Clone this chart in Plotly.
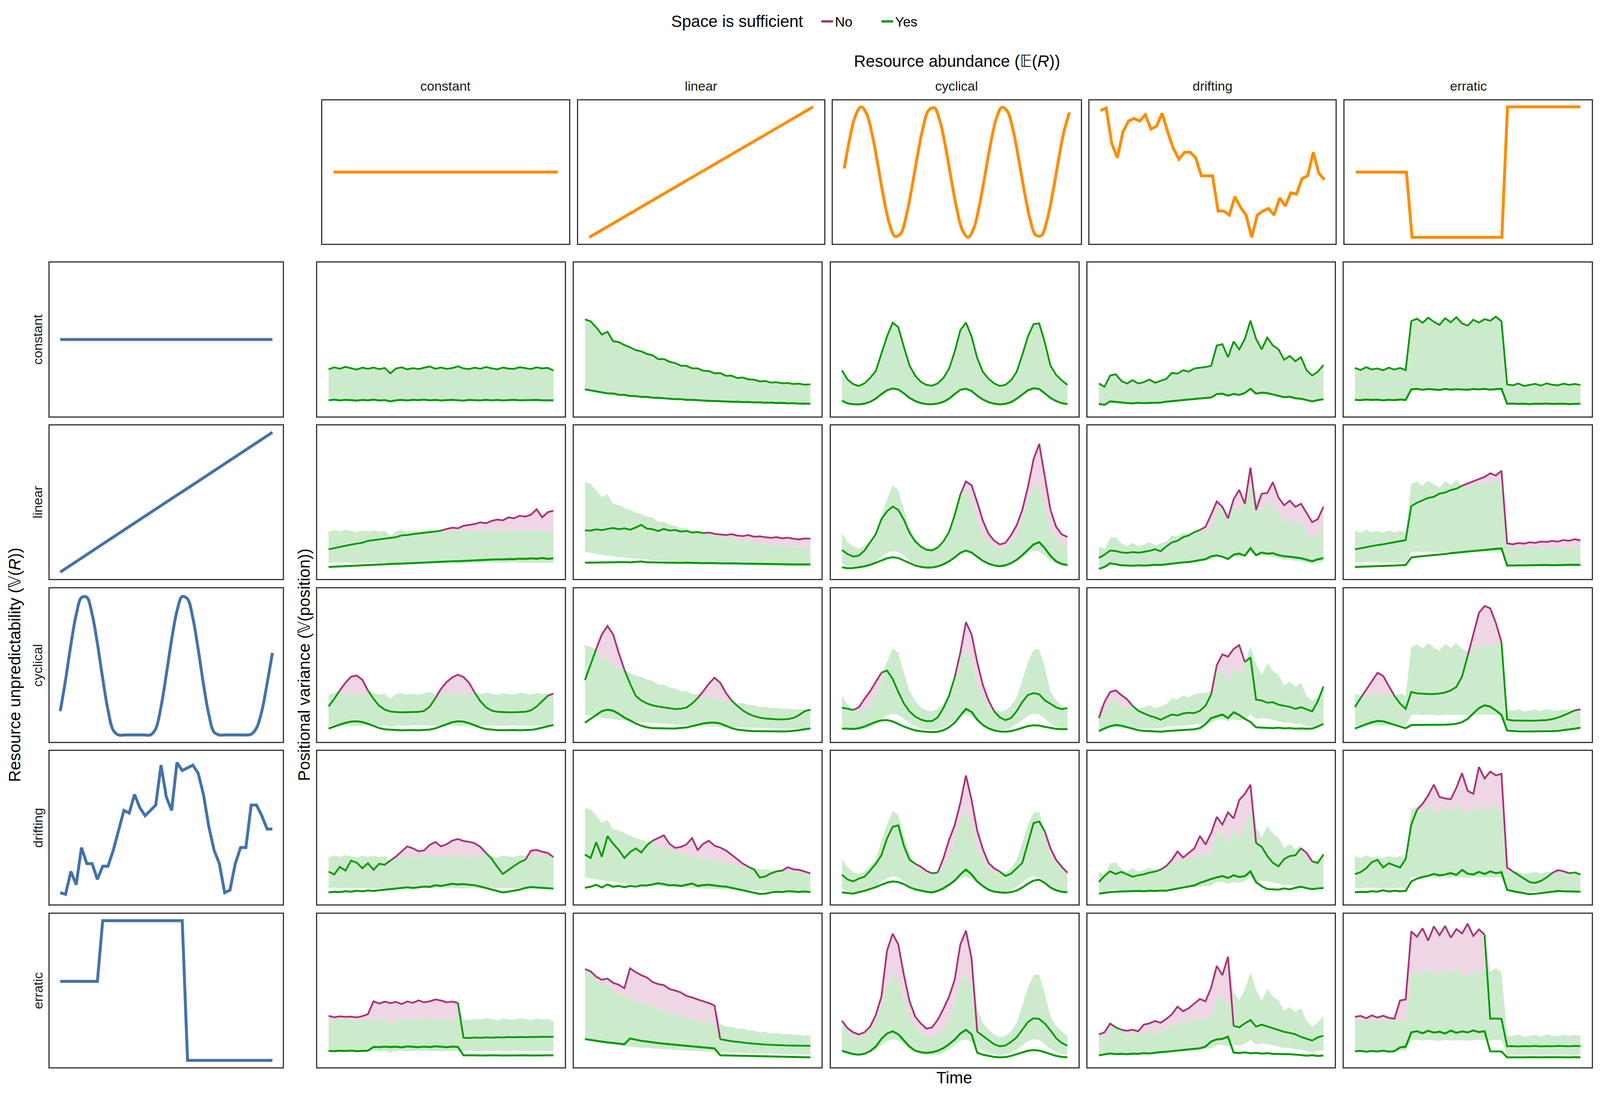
import plotly.graph_objects as go

# time axis shared by every panel (percent of the simulated period)
TIME = [0, 2.5, 5, 7.5, 10, 12.5, 15, 17.5, 20, 22.5,
        25, 27.5, 30, 32.5, 35, 37.5, 40, 42.5, 45, 47.5,
        50, 52.5, 55, 57.5, 60, 62.5, 65, 67.5, 70, 72.5,
        75, 77.5, 80, 82.5, 85, 87.5, 90, 92.5, 95, 97.5,
        100]

PATTERNS = ["constant", "linear", "cyclical", "drifting", "erratic"]

# ---- resource abundance E(R) (top row, orange)
ABUND_CON = [50, 50, 50, 50, 50, 50, 50, 50, 50, 50,
             50, 50, 50, 50, 50, 50, 50, 50, 50, 50,
             50, 50, 50, 50, 50, 50, 50, 50, 50, 50,
             50, 50, 50, 50, 50, 50, 50, 50, 50, 50,
             50]
ABUND_LIN = [4.5, 6.8, 9.1, 11.3, 13.6, 15.9, 18.2, 20.4, 22.7, 25.0,
             27.3, 29.5, 31.8, 34.1, 36.4, 38.6, 40.9, 43.2, 45.5, 47.7,
             50.0, 52.3, 54.6, 56.8, 59.1, 61.4, 63.7, 65.9, 68.2, 70.5,
             72.8, 75.0, 77.3, 79.6, 81.9, 84.1, 86.4, 88.7, 91.0, 93.2,
             95.5]
ABUND_CYC = [52.5, 73.9, 89.5, 95.5, 90.4, 75.4, 54.3, 32.1, 14.3, 5.2,
             6.9, 19.2, 39.0, 61.4, 81.1, 93.2, 94.8, 85.4, 67.5, 45.2,
             24.2, 9.4, 4.5, 10.7, 26.5, 48.0, 69.9, 87.1, 95.2, 92.3,
             79.1, 58.8, 36.4, 17.3, 6.1, 5.7, 16.1, 34.7, 57.0, 77.7,
             91.6]
ABUND_DRI = [92.9, 94.7, 70.0, 60.0, 78.0, 85.6, 87.4, 85.6, 90.0, 80.0,
             82.0, 91.0, 78.0, 66.5, 59.0, 63.8, 63.8, 60.0, 47.4, 47.4,
             47.4, 22.8, 22.8, 20.0, 32.8, 25.5, 20.0, 4.5, 20.0, 22.8,
             24.6, 20.0, 31.9, 26.4, 35.5, 34.6, 45.5, 47.4, 63.8, 49.2,
             44.6]
ABUND_ERR = [50, 50, 50, 50, 50, 50, 50, 50, 50, 50,
             4.5, 4.5, 4.5, 4.5, 4.5, 4.5, 4.5, 4.5, 4.5, 4.5,
             4.5, 4.5, 4.5, 4.5, 4.5, 4.5, 4.5, 95.5, 95.5, 95.5,
             95.5, 95.5, 95.5, 95.5, 95.5, 95.5, 95.5, 95.5, 95.5, 95.5,
             95.5]

# ---- resource unpredictability V(R) (left column, blue)
UNPRED_CON = [50, 50, 50, 50, 50, 50, 50, 50, 50, 50,
              50, 50, 50, 50, 50, 50, 50, 50, 50, 50,
              50, 50, 50, 50, 50, 50, 50, 50, 50, 50,
              50, 50, 50, 50, 50, 50, 50, 50, 50, 50,
              50]
UNPRED_LIN = [4.5, 6.8, 9.1, 11.3, 13.6, 15.9, 18.2, 20.4, 22.7, 25.0,
              27.3, 29.5, 31.8, 34.1, 36.4, 38.6, 40.9, 43.2, 45.5, 47.7,
              50.0, 52.3, 54.6, 56.8, 59.1, 61.4, 63.7, 65.9, 68.2, 70.5,
              72.8, 75.0, 77.3, 79.6, 81.9, 84.1, 86.4, 88.7, 91.0, 93.2,
              95.5]
UNPRED_CYC = [20.0, 40.4, 63.2, 82.7, 94.0, 94.2, 83.2, 64.1, 41.3, 20.7,
              7.5, 4.5, 4.5, 4.5, 4.5, 4.5, 4.5, 4.5, 8.6, 22.9,
              44.0, 66.6, 85.1, 94.7, 93.1, 80.7, 60.5, 37.7, 18.1, 6.3,
              4.5, 4.5, 4.5, 4.5, 4.5, 4.5, 5.0, 9.0, 20.0, 38.0,
              58.0]
UNPRED_DRI = [7.6, 6.6, 21.5, 12.8, 37.0, 26.6, 26.6, 16.3, 24.9, 24.9,
              35.3, 47.4, 61.2, 59.5, 71.6, 63.0, 57.8, 61.2, 64.7, 90.7,
              69.9, 61.2, 92.4, 87.2, 88.9, 90.7, 85.5, 71.6, 50.9, 35.3,
              26.6, 7.6, 9.3, 26.6, 37.0, 37.0, 64.7, 64.7, 57.8, 49.1,
              49.1]
UNPRED_ERR = [56, 56, 56, 56, 56, 56, 56, 56, 95.5, 95.5,
              95.5, 95.5, 95.5, 95.5, 95.5, 95.5, 95.5, 95.5, 95.5, 95.5,
              95.5, 95.5, 95.5, 95.5, 4.5, 4.5, 4.5, 4.5, 4.5, 4.5,
              4.5, 4.5, 4.5, 4.5, 4.5, 4.5, 4.5, 4.5, 4.5, 4.5,
              4.5]

# ---- positional variance, upper (UP) and lower (LO) curves, UP_<row>_<column>
# row = unpredictability pattern, column = abundance pattern
UP_CON_CON = [30.6, 31.9, 31.0, 32.2, 31.3, 30.5, 31.7, 30.9, 31.8, 30.7,
              31.5, 28.0, 31.2, 31.9, 30.6, 31.4, 30.8, 31.6, 32.5, 31.0,
              31.8, 30.9, 31.4, 32.6, 31.2, 30.8, 31.7, 31.0, 32.1, 31.3,
              30.6, 31.8, 31.1, 30.9, 32.0, 31.4, 30.8, 31.9, 31.2, 31.6,
              29.8]
LO_CON_CON = [10.5, 10.9, 10.4, 10.8, 10.6, 10.3, 10.7, 10.5, 10.9, 10.4,
              10.6, 9.8, 10.5, 10.7, 10.4, 10.8, 10.6, 10.9, 10.5, 10.7,
              10.4, 10.6, 10.8, 10.5, 10.3, 10.7, 10.6, 10.4, 10.8, 10.5,
              10.7, 10.4, 10.6, 10.8, 10.5, 10.6, 10.4, 10.7, 10.5, 10.6,
              10.5]
UP_CON_LIN = [63.1, 61.8, 57.9, 53.2, 55.0, 48.9, 48.3, 46.4, 44.9, 43.1,
              42.3, 40.6, 39.8, 37.2, 37.3, 35.5, 34.7, 33.0, 32.9, 31.3,
              31.2, 29.7, 29.5, 28.0, 28.2, 26.4, 26.5, 25.0, 25.3, 24.1,
              23.9, 22.8, 23.0, 22.0, 22.2, 21.6, 21.7, 21.1, 21.3, 20.6,
              20.9]
LO_CON_LIN = [17.6, 17.0, 16.2, 15.8, 15.0, 14.9, 14.1, 14.0, 13.3, 13.2,
              12.7, 12.7, 12.2, 12.1, 11.7, 11.6, 11.2, 11.2, 10.8, 10.8,
              10.5, 10.5, 10.1, 10.1, 9.8, 9.8, 9.5, 9.6, 9.3, 9.4,
              9.1, 9.2, 8.9, 9.0, 8.7, 8.8, 8.5, 8.6, 8.3, 8.4,
              8.2]
UP_CON_CYC = [30.0, 24.0, 21.0, 19.8, 21.5, 25.0, 29.5, 41.0, 52.0, 61.0,
              58.0, 45.0, 33.0, 26.5, 22.5, 20.5, 20.0, 21.5, 25.0, 31.0,
              42.0, 56.0, 61.0, 52.0, 38.0, 29.0, 24.5, 21.5, 19.8, 20.5,
              23.5, 29.0, 40.0, 52.0, 60.0, 60.5, 48.0, 33.0, 27.0, 23.5,
              20.5]
LO_CON_CYC = [10.2, 8.5, 7.9, 7.8, 8.3, 9.5, 11.5, 14.5, 17.0, 18.2,
              17.5, 15.0, 12.0, 10.0, 8.7, 8.0, 7.9, 8.4, 9.5, 11.5,
              14.5, 17.3, 18.0, 16.5, 13.5, 11.0, 9.3, 8.3, 7.8, 8.2,
              9.3, 11.5, 14.2, 17.0, 18.3, 17.8, 15.0, 12.0, 10.0, 8.6,
              8.0]
UP_CON_DRI = [21.4, 19.3, 26.6, 27.4, 23.1, 21.4, 23.6, 21.4, 22.3, 24.0,
              21.9, 23.1, 24.4, 28.3, 27.8, 30.0, 29.1, 31.2, 31.7, 32.1,
              32.9, 46.1, 47.0, 38.5, 48.7, 43.6, 50.4, 62.3, 50.4, 43.6,
              51.2, 46.1, 43.6, 36.8, 39.3, 35.9, 38.5, 30.0, 26.6, 29.1,
              33.4]
LO_CON_DRI = [8.2, 7.5, 9.8, 9.4, 8.8, 8.7, 8.5, 8.9, 8.6, 8.8,
              8.7, 9.0, 9.6, 10.0, 10.4, 10.6, 10.9, 11.3, 11.7, 12.0,
              12.3, 14.5, 14.8, 13.5, 14.6, 14.0, 15.2, 18.0, 14.8, 15.5,
              15.1, 14.3, 13.5, 12.5, 12.8, 11.8, 11.5, 10.5, 9.8, 10.6,
              11.2]
UP_CON_ERR = [31.5, 30.2, 32.0, 30.5, 31.2, 30.0, 31.7, 30.4, 31.5, 30.1,
              62.0, 63.5, 60.8, 64.2, 61.5, 59.5, 63.8, 61.2, 64.5, 60.5,
              59.0, 62.8, 61.0, 63.2, 62.2, 64.8, 61.8, 20.8, 20.2, 21.4,
              19.8, 20.5, 21.2, 20.0, 21.5, 20.6, 20.2, 21.3, 20.5, 21.1,
              20.4]
LO_CON_ERR = [10.8, 10.6, 11.0, 10.7, 10.9, 10.5, 10.8, 10.6, 11.0, 10.7,
              17.6, 17.9, 17.3, 17.8, 17.5, 17.2, 17.9, 17.4, 17.7, 17.5,
              17.3, 17.8, 17.6, 17.9, 17.4, 17.7, 18.0, 8.2, 8.4, 8.1,
              8.3, 8.0, 8.3, 8.2, 8.4, 8.1, 8.2, 8.3, 8.0, 8.2,
              8.3]

UP_LIN_CON = [19.3, 20.1, 20.8, 21.5, 22.4, 23.0, 23.6, 24.8, 25.3, 25.8,
              26.4, 26.7, 27.2, 28.4, 28.6, 29.2, 29.6, 30.1, 30.4, 30.9,
              31.5, 32.6, 33.4, 33.0, 34.6, 35.2, 35.8, 36.9, 36.3, 37.8,
              38.7, 38.2, 40.1, 39.5, 41.2, 40.6, 41.8, 45.4, 40.2, 43.5,
              44.5]
LO_LIN_CON = [7.8, 8.0, 8.2, 8.3, 8.5, 8.6, 8.9, 9.0, 9.2, 9.4,
              9.5, 9.7, 9.9, 10.0, 10.2, 10.4, 10.5, 10.7, 10.9, 11.0,
              11.2, 11.3, 11.5, 11.6, 11.8, 12.0, 12.1, 12.3, 12.4, 12.5,
              12.8, 12.7, 13.0, 12.9, 13.2, 13.1, 13.4, 13.2, 13.6, 13.1,
              13.5]
UP_LIN_LIN = [31.7, 31.5, 32.3, 31.8, 32.6, 33.2, 32.4, 33.0, 32.1, 33.5,
              35.3, 32.8, 32.4, 31.2, 32.6, 31.5, 31.9, 30.8, 31.3, 30.2,
              30.6, 29.9, 30.2, 29.4, 29.0, 28.6, 29.2, 28.3, 27.9, 28.6,
              27.5, 27.8, 27.2, 26.8, 27.3, 26.5, 26.9, 26.2, 25.8, 26.4,
              26.2]
LO_LIN_LIN = [10.6, 10.7, 10.8, 10.7, 10.9, 10.8, 10.9, 11.0, 10.8, 11.0,
              11.4, 10.9, 10.8, 10.7, 10.8, 10.6, 10.7, 10.5, 10.6, 10.4,
              10.5, 10.3, 10.4, 10.2, 10.3, 10.1, 10.2, 10.0, 10.1, 9.9,
              9.9, 9.8, 9.8, 9.7, 9.7, 9.6, 9.6, 9.5, 9.5, 9.6,
              9.5]
UP_LIN_CYC = [18.9, 16.2, 14.6, 15.2, 18.5, 24.0, 29.2, 39.0, 44.0, 47.2,
              45.0, 38.5, 30.0, 24.5, 21.0, 19.0, 18.6, 20.5, 24.5, 30.5,
              41.5, 55.0, 63.5, 61.0, 50.0, 38.0, 29.5, 25.0, 22.5, 23.5,
              28.5, 35.0, 45.0, 60.0, 78.0, 88.0, 66.0, 45.0, 34.0, 29.0,
              27.4]
LO_LIN_CYC = [7.6, 7.0, 7.1, 7.5, 8.2, 9.2, 10.5, 12.0, 13.5, 14.2,
              13.6, 12.0, 10.2, 8.8, 7.9, 7.4, 7.5, 8.2, 9.5, 11.5,
              14.0, 17.0, 18.5, 17.2, 14.5, 11.8, 10.0, 8.8, 8.3, 8.9,
              10.3, 12.5, 15.5, 19.0, 22.5, 24.0, 20.0, 15.0, 11.5, 9.8,
              9.1]
UP_LIN_DRI = [13.8, 15.8, 18.5, 18.2, 17.3, 17.0, 17.5, 17.1, 17.6, 18.3,
              19.4, 18.0, 21.2, 23.8, 24.9, 27.2, 28.4, 30.5, 31.9, 34.0,
              42.0, 50.5, 47.0, 39.5, 52.0, 58.0, 49.0, 72.5, 45.0, 55.5,
              56.0, 63.0, 53.0, 48.0, 51.0, 47.0, 49.0, 43.0, 37.0, 39.0,
              47.0]
LO_LIN_DRI = [6.6, 7.8, 10.2, 9.5, 8.9, 8.8, 8.6, 8.9, 8.7, 8.9,
              9.2, 9.1, 9.6, 10.0, 10.3, 10.8, 11.0, 11.6, 12.2, 12.9,
              14.8, 15.3, 14.5, 13.0, 15.8, 16.5, 15.2, 20.0, 15.5, 17.2,
              16.5, 16.8, 15.5, 14.8, 14.5, 13.9, 13.5, 12.5, 11.6, 12.8,
              13.6]
UP_LIN_ERR = [19.3, 20.0, 20.8, 21.3, 22.1, 22.6, 23.3, 23.8, 24.5, 25.3,
              47.5, 49.6, 51.2, 52.8, 53.5, 55.6, 56.3, 57.9, 58.8, 60.7,
              62.1, 63.6, 65.2, 66.5, 68.8, 67.4, 70.5, 23.2, 22.6, 23.4,
              23.0, 23.9, 23.5, 24.4, 24.1, 24.8, 24.3, 25.4, 24.9, 25.9,
              25.2]
LO_LIN_ERR = [7.8, 7.9, 8.0, 8.2, 8.3, 8.5, 8.6, 8.8, 8.9, 9.1,
              14.0, 14.5, 14.8, 15.1, 15.5, 15.9, 16.3, 16.8, 17.0, 17.5,
              17.9, 18.2, 18.6, 19.0, 19.3, 19.5, 19.9, 8.7, 8.8, 8.9,
              8.8, 9.0, 8.9, 9.0, 9.1, 9.0, 9.2, 9.1, 9.2, 9.3,
              9.2]

UP_CYC_CON = [23.1, 28.0, 33.5, 38.5, 42.5, 43.2, 40.5, 33.5, 28.0, 23.5,
              21.0, 19.8, 19.4, 19.3, 19.3, 19.4, 19.5, 20.2, 23.0, 28.5,
              34.5, 39.0, 42.0, 43.8, 42.2, 38.5, 32.0, 26.5, 22.5, 20.4,
              19.6, 19.4, 19.3, 19.3, 19.4, 19.6, 20.5, 23.0, 26.5, 30.0,
              31.5]
LO_CYC_CON = [8.7, 9.8, 11.2, 12.4, 13.2, 13.4, 12.9, 11.8, 10.3, 9.0,
              8.2, 7.8, 7.7, 7.6, 7.8, 7.7, 7.6, 7.8, 8.0, 8.8,
              10.0, 11.5, 12.8, 13.4, 13.2, 12.2, 10.8, 9.4, 8.4, 7.9,
              7.7, 7.6, 7.8, 7.7, 7.6, 7.7, 7.8, 8.4, 9.3, 10.2,
              11.0]
UP_CYC_LIN = [40.2, 50.0, 60.5, 70.0, 75.5, 70.0, 58.0, 47.0, 38.0, 30.0,
              27.0, 25.0, 23.8, 23.0, 22.5, 21.8, 21.4, 21.6, 22.3, 25.0,
              28.5, 33.0, 38.0, 41.8, 38.5, 32.0, 27.0, 23.5, 20.5, 18.3,
              16.8, 15.8, 15.2, 14.9, 14.7, 14.6, 14.8, 15.6, 17.5, 20.0,
              21.0]
LO_CYC_LIN = [12.5, 15.0, 17.5, 20.0, 21.0, 20.3, 18.3, 15.8, 14.0, 12.0,
              10.5, 9.5, 9.0, 8.8, 8.7, 8.7, 8.7, 8.9, 9.4, 10.2,
              11.2, 12.0, 12.5, 12.6, 12.0, 10.6, 9.0, 8.0, 7.5, 7.2,
              7.0, 6.9, 6.8, 6.8, 6.8, 6.8, 6.9, 7.2, 7.6, 8.2,
              8.7]
UP_CYC_CYC = [22.3, 21.5, 20.8, 22.5, 28.0, 33.0, 39.0, 45.0, 46.5, 41.0,
              32.5, 25.0, 19.8, 16.5, 14.5, 13.5, 13.6, 16.0, 22.0, 30.0,
              42.0, 58.0, 78.0, 70.0, 52.0, 37.0, 27.0, 20.0, 16.0, 14.2,
              15.5, 20.0, 26.0, 30.5, 31.8, 31.0, 27.0, 24.8, 22.5, 21.3,
              22.0]
LO_CYC_CYC = [8.7, 8.5, 8.4, 8.9, 10.0, 11.5, 13.0, 14.0, 14.2, 13.3,
              11.6, 10.0, 8.6, 7.5, 6.9, 6.5, 6.3, 6.6, 7.6, 9.5,
              12.5, 17.0, 21.5, 19.5, 14.5, 11.0, 8.8, 7.5, 6.8, 6.6,
              7.0, 8.0, 9.2, 10.3, 10.8, 10.6, 9.8, 9.0, 8.5, 8.3,
              8.3]
UP_CYC_DRI = [15.5, 26.0, 32.5, 33.5, 30.5, 27.8, 23.5, 20.3, 18.6, 17.0,
              16.0, 14.4, 16.2, 17.8, 17.2, 18.5, 19.0, 18.7, 20.3, 23.5,
              31.0, 50.0, 57.0, 55.5, 60.5, 63.0, 52.0, 55.0, 27.5, 27.0,
              25.5, 25.8, 24.2, 23.4, 22.8, 21.5, 22.6, 21.2, 19.8, 26.5,
              36.0]
LO_CYC_DRI = [7.0, 8.8, 10.2, 11.0, 10.6, 9.5, 8.5, 7.6, 7.2, 7.0,
              6.8, 6.6, 7.0, 7.2, 7.5, 7.6, 7.8, 8.2, 9.0, 11.5,
              15.5, 16.8, 17.8, 15.5, 19.3, 17.5, 15.0, 13.0, 9.5, 9.3,
              9.1, 9.0, 9.2, 8.8, 9.0, 8.6, 8.8, 8.5, 8.7, 10.0,
              11.7]
UP_CYC_ERR = [22.7, 28.5, 34.0, 40.0, 45.0, 43.0, 36.5, 30.0, 25.0, 21.5,
              32.5, 31.6, 31.3, 31.2, 31.2, 31.5, 32.2, 33.5, 35.8, 42.5,
              56.0, 70.0, 84.0, 88.5, 87.0, 77.5, 65.0, 14.6, 13.9, 13.8,
              13.8, 13.8, 13.8, 13.9, 14.2, 14.8, 15.8, 17.2, 19.0, 20.5,
              21.2]
LO_CYC_ERR = [8.7, 10.2, 11.5, 12.8, 13.6, 13.4, 12.3, 11.0, 9.8, 8.9,
              11.0, 11.0, 11.0, 11.0, 11.1, 11.1, 11.2, 11.4, 11.8, 12.8,
              15.0, 18.5, 22.0, 23.8, 23.0, 20.5, 17.5, 7.4, 7.0, 6.9,
              6.8, 6.8, 6.8, 6.8, 6.9, 7.0, 7.2, 7.6, 8.2, 8.6,
              9.2]

UP_DRI_CON = [21.4, 19.5, 24.5, 22.0, 28.5, 27.2, 23.5, 26.8, 22.5, 26.5,
              25.8, 28.6, 31.2, 34.5, 37.8, 36.5, 34.6, 35.2, 38.8, 40.6,
              37.8, 39.2, 41.5, 42.6, 41.3, 40.8, 39.8, 37.5, 33.5, 29.8,
              24.5, 19.8, 22.5, 25.0, 27.5, 29.0, 35.0, 35.5, 34.3, 33.5,
              30.8]
LO_DRI_CON = [7.8, 8.2, 8.0, 8.6, 8.3, 8.9, 8.5, 9.1, 8.8, 9.3,
              9.6, 9.9, 10.2, 10.8, 11.1, 10.7, 11.3, 11.6, 11.4, 12.5,
              12.0, 12.8, 13.4, 13.0, 13.2, 12.8, 12.5, 11.6, 10.6, 9.8,
              8.8, 7.8, 8.3, 9.0, 9.6, 10.7, 11.3, 11.0, 10.8, 10.6,
              10.3]
UP_DRI_LIN = [32.5, 30.2, 40.5, 31.0, 44.5, 39.5, 35.5, 30.2, 34.0, 36.5,
              33.8, 38.5, 41.5, 43.2, 45.0, 39.5, 36.8, 37.4, 39.0, 43.2,
              35.5, 39.5, 41.5, 38.2, 37.0, 35.2, 32.5, 29.5, 26.6, 24.5,
              22.8, 17.5, 18.2, 20.2, 21.5, 22.0, 24.2, 22.8, 22.5, 21.4,
              20.2]
LO_DRI_LIN = [10.8, 11.5, 12.8, 11.0, 13.0, 11.5, 12.0, 11.2, 12.0, 11.6,
              12.4, 12.3, 13.0, 13.8, 13.2, 12.4, 12.6, 12.0, 12.8, 13.6,
              12.0, 12.6, 12.8, 12.2, 11.8, 11.6, 10.8, 10.0, 9.3, 8.5,
              7.8, 6.8, 7.0, 7.8, 8.2, 8.0, 8.6, 8.3, 8.1, 8.4,
              8.0]
UP_DRI_CYC = [19.3, 16.2, 15.0, 16.8, 18.0, 22.0, 26.5, 32.0, 43.0, 50.5,
              51.5, 38.0, 29.0, 26.5, 24.5, 21.8, 20.2, 20.8, 30.0, 42.0,
              51.5, 66.0, 84.0, 68.0, 48.0, 36.0, 27.0, 23.5, 21.4, 18.5,
              20.0, 23.5, 27.0, 40.0, 53.0, 54.0, 47.5, 36.5, 29.0, 24.5,
              20.6]
LO_DRI_CYC = [7.8, 7.4, 7.0, 8.0, 8.8, 10.0, 11.2, 12.8, 14.2, 15.0,
              14.5, 13.2, 11.2, 9.8, 9.0, 8.2, 7.8, 8.8, 10.5, 12.8,
              15.5, 19.5, 22.7, 19.5, 15.0, 12.0, 9.5, 8.3, 7.8, 7.6,
              8.0, 9.0, 11.0, 13.5, 15.5, 16.1, 14.0, 11.0, 9.2, 8.2,
              7.8]
UP_DRI_DRI = [14.6, 18.5, 21.6, 19.8, 21.2, 19.5, 18.0, 19.0, 19.6, 20.7,
              21.4, 22.6, 25.0, 29.0, 34.5, 30.5, 33.5, 36.5, 44.5, 39.0,
              46.5, 57.0, 52.0, 60.0, 56.0, 68.0, 72.0, 78.0, 40.0, 37.5,
              31.5, 27.0, 24.8, 29.5, 31.5, 32.0, 36.5, 33.5, 28.0, 27.0,
              32.5]
LO_DRI_DRI = [7.0, 7.6, 8.0, 8.3, 8.4, 8.6, 8.4, 8.8, 8.5, 8.9,
              8.7, 9.0, 8.9, 9.6, 10.5, 11.0, 11.6, 12.4, 14.0, 15.4,
              16.5, 17.6, 18.5, 17.2, 19.0, 17.8, 18.4, 21.5, 14.5, 11.8,
              10.0, 9.8, 9.6, 10.4, 9.8, 10.8, 11.5, 10.6, 9.9, 10.4,
              10.7]
UP_DRI_ERR = [19.7, 21.0, 23.5, 27.5, 29.0, 24.0, 26.8, 25.5, 24.0, 29.5,
              52.0, 61.5, 65.5, 71.0, 78.0, 70.0, 69.0, 68.5, 76.0, 85.5,
              74.0, 72.0, 89.5, 82.0, 86.5, 84.0, 85.0, 24.0, 21.5, 19.2,
              17.0, 14.5, 14.0, 15.3, 17.5, 20.5, 22.3, 21.6, 20.3, 20.8,
              19.5]
LO_DRI_ERR = [7.8, 8.2, 8.0, 8.6, 8.3, 9.2, 8.4, 8.9, 8.5, 8.8,
              15.0, 16.8, 17.8, 18.6, 19.8, 18.9, 19.5, 20.4, 19.2, 22.5,
              20.0, 19.5, 21.2, 19.8, 21.5, 20.3, 21.0, 9.5, 8.6, 8.0,
              7.2, 6.6, 6.9, 7.3, 7.8, 8.3, 8.7, 8.5, 8.4, 8.6,
              8.3]

UP_ERR_CON = [33.5, 32.6, 33.2, 32.8, 33.0, 32.5, 33.3, 34.6, 43.0, 41.5,
              42.8, 41.8, 42.6, 41.2, 42.9, 42.0, 43.6, 42.3, 43.0, 44.2,
              43.5, 42.4, 42.8, 42.0, 19.3, 19.1, 19.4, 19.2, 19.5, 19.3,
              19.6, 19.4, 19.7, 19.5, 19.8, 19.6, 19.8, 19.7, 19.9, 19.8,
              19.9]
LO_ERR_CON = [10.7, 10.5, 10.8, 10.6, 10.9, 10.5, 10.7, 10.8, 13.3, 13.1,
              13.5, 13.2, 13.4, 13.0, 13.6, 13.3, 13.1, 13.5, 13.2, 13.7,
              13.4, 13.1, 13.5, 13.3, 7.8, 7.9, 7.8, 7.7, 7.8, 7.9,
              7.8, 7.7, 7.8, 7.9, 7.8, 7.8, 7.7, 7.8, 7.9, 7.8,
              7.8]
UP_ERR_LIN = [64.0, 62.5, 59.0, 57.0, 57.8, 55.0, 53.8, 51.5, 64.5, 62.0,
              60.0, 58.5, 55.5, 54.2, 53.5, 51.0, 50.0, 48.8, 46.5, 45.5,
              44.2, 43.0, 41.8, 40.2, 18.3, 17.6, 17.0, 16.6, 16.1, 15.7,
              15.4, 15.0, 14.8, 14.6, 14.4, 14.3, 14.2, 14.1, 14.0, 14.0,
              14.0]
LO_ERR_LIN = [18.4, 17.8, 17.2, 16.8, 16.2, 15.9, 15.5, 15.0, 18.8, 18.0,
              17.2, 16.8, 16.2, 15.8, 15.4, 15.0, 14.6, 14.3, 14.0, 13.6,
              13.3, 13.0, 12.7, 12.3, 7.8, 7.7, 7.6, 7.5, 7.4, 7.3,
              7.2, 7.1, 7.0, 6.9, 6.8, 6.7, 6.7, 6.6, 6.6, 6.5,
              6.5]
UP_ERR_CYC = [30.3, 25.5, 22.8, 21.4, 22.8, 26.5, 34.0, 46.0, 76.0, 87.0,
              80.0, 60.0, 43.0, 33.0, 28.5, 25.2, 26.0, 31.0, 38.0, 46.0,
              57.0, 80.0, 89.0, 71.0, 23.2, 20.5, 17.5, 15.0, 13.7, 14.2,
              16.5, 19.5, 24.5, 29.5, 32.0, 31.5, 28.5, 24.0, 19.0, 15.8,
              14.1]
LO_ERR_CYC = [10.7, 9.5, 8.6, 8.2, 8.8, 10.5, 13.5, 18.5, 22.0, 23.5,
              21.5, 17.5, 13.5, 10.8, 9.8, 9.4, 9.8, 10.8, 12.5, 15.0,
              18.0, 22.0, 24.4, 21.5, 9.5, 8.2, 7.4, 6.8, 6.5, 6.7,
              7.4, 8.5, 9.8, 10.8, 11.2, 10.9, 9.8, 8.5, 7.4, 6.8,
              6.5]
UP_ERR_DRI = [21.4, 22.8, 28.5, 26.0, 24.5, 23.8, 24.5, 23.5, 27.8, 28.6,
              30.2, 29.0, 31.5, 34.5, 39.5, 36.5, 38.5, 41.5, 44.5, 43.0,
              52.0, 66.0, 60.0, 72.0, 27.0, 26.0, 28.6, 30.8, 26.5, 27.8,
              26.6, 25.5, 24.2, 23.1, 22.4, 21.5, 19.8, 18.5, 17.4, 19.5,
              20.6]
LO_ERR_DRI = [7.8, 8.3, 9.0, 8.6, 8.8, 8.5, 8.9, 8.7, 9.2, 9.0,
              9.6, 9.9, 10.1, 10.5, 10.8, 11.0, 11.5, 12.0, 12.4, 13.5,
              16.8, 18.2, 18.5, 20.0, 9.6, 9.3, 9.7, 9.1, 9.4, 8.9,
              9.2, 8.8, 8.7, 8.9, 8.5, 8.3, 8.0, 7.6, 7.9, 7.4,
              7.7]
UP_ERR_ERR = [32.9, 33.5, 32.0, 33.8, 32.4, 33.6, 32.2, 31.6, 43.5, 44.2,
              88.5, 85.0, 90.5, 82.5, 91.8, 86.0, 92.0, 84.5, 90.0, 87.2,
              93.5, 85.5, 89.8, 86.5, 31.6, 31.8, 31.5, 13.7, 13.8, 13.6,
              13.8, 13.7, 13.9, 13.6, 13.8, 13.7, 13.9, 13.8, 13.7, 13.9,
              13.8]
LO_ERR_ERR = [10.4, 10.7, 10.2, 10.6, 10.3, 10.8, 10.2, 10.5, 13.0, 13.4,
              22.8, 23.5, 22.2, 23.8, 22.6, 23.2, 22.0, 23.9, 22.5, 23.4,
              22.7, 24.0, 22.9, 23.5, 10.4, 10.5, 10.3, 6.5, 6.4, 6.6,
              6.5, 6.6, 6.4, 6.5, 6.6, 6.5, 6.4, 6.6, 6.5, 6.6,
              6.5]

ABUNDANCE = [ABUND_CON, ABUND_LIN, ABUND_CYC, ABUND_DRI, ABUND_ERR]
UNPREDICTABILITY = [UNPRED_CON, UNPRED_LIN, UNPRED_CYC, UNPRED_DRI, UNPRED_ERR]
UPPER = [[UP_CON_CON, UP_CON_LIN, UP_CON_CYC, UP_CON_DRI, UP_CON_ERR],
         [UP_LIN_CON, UP_LIN_LIN, UP_LIN_CYC, UP_LIN_DRI, UP_LIN_ERR],
         [UP_CYC_CON, UP_CYC_LIN, UP_CYC_CYC, UP_CYC_DRI, UP_CYC_ERR],
         [UP_DRI_CON, UP_DRI_LIN, UP_DRI_CYC, UP_DRI_DRI, UP_DRI_ERR],
         [UP_ERR_CON, UP_ERR_LIN, UP_ERR_CYC, UP_ERR_DRI, UP_ERR_ERR]]
LOWER = [[LO_CON_CON, LO_CON_LIN, LO_CON_CYC, LO_CON_DRI, LO_CON_ERR],
         [LO_LIN_CON, LO_LIN_LIN, LO_LIN_CYC, LO_LIN_DRI, LO_LIN_ERR],
         [LO_CYC_CON, LO_CYC_LIN, LO_CYC_CYC, LO_CYC_DRI, LO_CYC_ERR],
         [LO_DRI_CON, LO_DRI_LIN, LO_DRI_CYC, LO_DRI_DRI, LO_DRI_ERR],
         [LO_ERR_CON, LO_ERR_LIN, LO_ERR_CYC, LO_ERR_DRI, LO_ERR_ERR]]

# colours
ORANGE = "#FF8C00"
BLUE = "#4372AA"
MAGENTA = "#AA3377"
GREEN = "#009900"
GREEN_FILL = "#CCEBCC"
PINK_FILL = "#EED6E4"
FONT = "Liberation Sans, Arial, DejaVu Sans, sans-serif"

# layout reference frame (px of the 4800 x 2808 original), used as paper fractions
W, H = 4800, 2808
GRID_X = [(952, 1694), (1721, 2465), (2492, 3236), (3263, 4004), (4031, 4775)]
GRID_Y = [(672, 1066), (1089, 1482), (1506, 1899), (1922, 2315), (2339, 2732)]
TOP_X = [(967, 1707), (1734, 2473), (2499, 3242), (3268, 4007), (4034, 4775)]
TOP_Y = (257, 624)
LEFT_X = (149, 849)

fig = go.Figure()
n_axes = 0


def add_axes(px_x, px_y):
    global n_axes
    n_axes += 1
    s = "" if n_axes == 1 else str(n_axes)
    frame = dict(showgrid=False, zeroline=False, showticklabels=False, ticks="",
                 showline=True, mirror=True, linecolor="#333333", linewidth=2.5)
    fig.update_layout(**{
        "xaxis" + s: dict(domain=[px_x[0] / W, px_x[1] / W], range=[-5, 105], anchor="y" + s, **frame),
        "yaxis" + s: dict(domain=[1 - px_y[1] / H, 1 - px_y[0] / H], range=[0, 100], anchor="x" + s, **frame),
    })
    return "x" + s, "y" + s


def add_line(xa, ya, y, color, width, shape="linear"):
    fig.add_trace(go.Scatter(x=TIME, y=y, mode="lines", xaxis=xa, yaxis=ya,
                             line=dict(color=color, width=width, shape=shape),
                             showlegend=False, hoverinfo="skip"))


def add_band(xa, ya, hi, lo, color):
    fig.add_trace(go.Scatter(x=TIME + TIME[::-1], y=list(hi) + list(lo)[::-1], mode="lines",
                             fill="toself", fillcolor=color, line=dict(width=0),
                             xaxis=xa, yaxis=ya, showlegend=False, hoverinfo="skip"))


def split_by_space(upper, ref):
    # a stretch counts as "space insufficient" where it rises above the reference envelope
    runs = []
    for i in range(len(upper) - 1):
        flag = upper[i] + upper[i + 1] > ref[i] + ref[i + 1]
        if runs and runs[-1][0] == flag:
            runs[-1][2] = i + 1
        else:
            runs.append([flag, i, i + 1])
    out = {True: ([], []), False: ([], [])}
    for flag, a, b in runs:
        xs, ys = out[flag]
        xs.extend(TIME[a:b + 1] + [None])
        ys.extend(upper[a:b + 1] + [None])
    return out


# top row: resource abundance
for c, series in enumerate(ABUNDANCE):
    xa, ya = add_axes(TOP_X[c], TOP_Y)
    add_line(xa, ya, series, ORANGE, 7.5, "spline" if c == 2 else "linear")

# left column: resource unpredictability
for r, series in enumerate(UNPREDICTABILITY):
    xa, ya = add_axes(LEFT_X, GRID_Y[r])
    add_line(xa, ya, series, BLUE, 7.5, "spline" if r == 2 else "linear")

# grid: positional variance
for r in range(5):
    for c in range(5):
        xa, ya = add_axes(GRID_X[c], GRID_Y[r])
        band_hi, band_lo = UPPER[0][c], LOWER[0][c]
        upper, lower = UPPER[r][c], LOWER[r][c]
        add_band(xa, ya, band_hi, band_lo, GREEN_FILL)
        excess = [max(u, b) for u, b in zip(upper, band_hi)]
        add_band(xa, ya, excess, band_hi, PINK_FILL)
        add_line(xa, ya, lower, GREEN, 5)
        parts = split_by_space(upper, band_hi)
        for flag, color in [(True, MAGENTA), (False, GREEN)]:
            xs, ys = parts[flag]
            if xs:
                fig.add_trace(go.Scatter(x=xs, y=ys, mode="lines", xaxis=xa, yaxis=ya,
                                         line=dict(color=color, width=4.5), connectgaps=False,
                                         showlegend=False, hoverinfo="skip"))

# legend entries
for name, color in [("No", MAGENTA), ("Yes", GREEN)]:
    fig.add_trace(go.Scatter(x=[None], y=[None], mode="lines", name=name,
                             line=dict(color=color, width=6), showlegend=True))

annotations = []
annotations.append(dict(text="Space is sufficient", x=2412 / W, y=1 - 55 / H, xanchor="right",
                        font=dict(size=42, color="black")))
annotations.append(dict(text="Resource abundance (𝔼(<i>R</i>))", x=2871 / W, y=1 - 156 / H,
                        font=dict(size=42, color="black")))
for c, label in enumerate(PATTERNS):
    annotations.append(dict(text=label, x=(TOP_X[c][0] + TOP_X[c][1]) / 2 / W, y=1 - 220 / H,
                            font=dict(size=34, color="#1A1A1A")))
    annotations.append(dict(text=label, x=113 / W, y=1 - (GRID_Y[c][0] + GRID_Y[c][1]) / 2 / H,
                            textangle=-90, font=dict(size=34, color="#1A1A1A")))
annotations.append(dict(text="Resource unpredictability (𝕍(<i>R</i>))", x=43 / W, y=1 - 1702 / H,
                        textangle=-90, font=dict(size=42, color="black")))
annotations.append(dict(text="Positional variance (𝕍(position))", x=912 / W, y=1 - 1702 / H,
                        textangle=-90, font=dict(size=42, color="black")))
annotations.append(dict(text="Time", x=2863 / W, y=1 - 2758 / H, font=dict(size=42, color="black")))
for a in annotations:
    a.setdefault("xanchor", "center")
    a.update(xref="paper", yref="paper", showarrow=False, yanchor="middle")

fig.update_layout(
    autosize=True,
    margin=dict(l=0, r=0, t=0, b=0),
    paper_bgcolor="white", plot_bgcolor="white",
    font=dict(family=FONT, color="black"),
    annotations=annotations,
    showlegend=True,
    legend=dict(orientation="h", x=2458 / W, xanchor="left", y=1 - 55 / H, yanchor="middle",
                font=dict(size=35), bgcolor="rgba(0,0,0,0)", entrywidth=109, entrywidthmode="pixels"),
)

# fill the browser window exactly
fit = ("document.body.style.margin='0';document.body.style.overflow='hidden';"
       "Plotly.Plots.resize(document.getElementById('{plot_id}'));")
fig.write_html("out.html", default_width="100vw", default_height="100vh",
               config={"displayModeBar": False}, post_script=fit)
